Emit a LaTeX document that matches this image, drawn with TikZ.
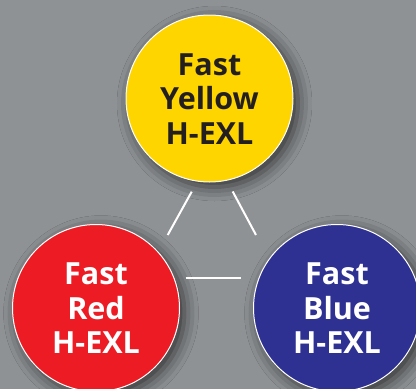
\documentclass[tikz,border=0pt]{standalone}
\usepackage{fontspec}
\setmainfont{Open Sans}
\usetikzlibrary{shadows.blur}
\definecolor{bg}{RGB}{143,146,149}
\definecolor{cyel}{RGB}{255,213,0}
\definecolor{cred}{RGB}{237,28,36}
\definecolor{cblue}{RGB}{46,49,146}
\definecolor{ink}{RGB}{35,31,32}
\tikzset{
  ball/.style={circle, draw=white, line width=1pt, minimum size=167pt, inner sep=0pt,
    blur shadow={shadow xshift=5pt, shadow yshift=-5pt, shadow blur radius=14pt, shadow opacity=65}},
  lbl/.style={align=center, font=\fontsize{30.5}{34.5}\selectfont\bfseries, inner sep=0pt},
  link/.style={draw=white, line width=2pt}
}
\begin{document}
\begin{tikzpicture}[x=1pt,y=-1pt]
\fill[bg] (0,0) rectangle (416,389);
\useasboundingbox (0,0) rectangle (416,389);
\clip (0,0) rectangle (416,389);
\node[ball, fill=cyel] (yellow) at (209.5,98.5) {};
\node[ball, fill=cred] (red) at (96,308) {};
\node[ball, fill=cblue] (blue) at (337,308) {};
\node[lbl, text=ink] (tyellow) at ([yshift=-0.5pt]yellow.center) {Fast\\Yellow\\H-EXL};
\node[lbl, text=white] (tred) at ([yshift=-0.5pt]red.center) {Fast\\Red\\H-EXL};
\node[lbl, text=white] (tblue) at ([yshift=-0.5pt]blue.center) {Fast\\Blue\\H-EXL};
\coordinate (a1) at (191.7,191.7);
\coordinate (a2) at (167.7,235);
\coordinate (b1) at (232.7,191.5);
\coordinate (b2) at (256,235);
\coordinate (c1) at (185.7,277.7);
\coordinate (c2) at (241,277.7);
\draw[link] (a1) -- (a2);
\draw[link] (b1) -- (b2);
\draw[link] (c1) -- (c2);
\end{tikzpicture}
\end{document}
